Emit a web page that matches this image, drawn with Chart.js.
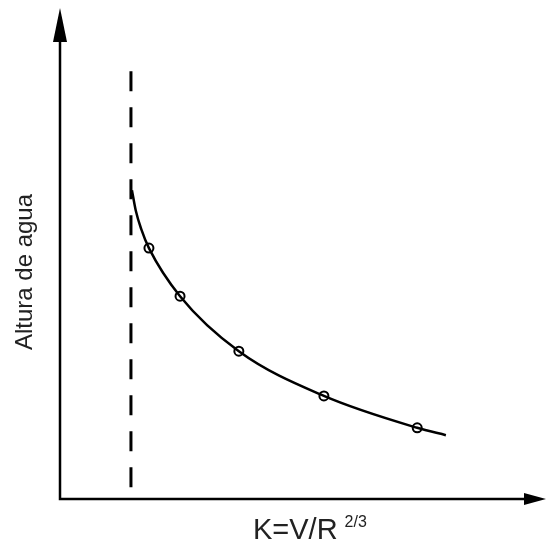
<!DOCTYPE html>
<html>
<head>
<meta charset="utf-8">
<script src="https://cdn.jsdelivr.net/npm/chart.js@4/dist/chart.umd.min.js"></script>
<style>
  html, body { margin: 0; padding: 0; background: #fff; }
  #wrap { width: 546px; height: 540px; }
</style>
</head>
<body>
<div id="wrap"><canvas id="grafico" width="546" height="540"></canvas></div>
<script>
// Curva de altura de agua vs K
const curvaK = [1.48, 1.56, 1.67, 1.83, 2.47, 3.68, 5.43, 7.35, 7.94];
const curvaAltura = [6.29, 5.87, 5.50, 5.11, 4.13, 3.01, 2.10, 1.45, 1.30];

// Puntos medidos (circulos)
const puntosK = [1.83, 2.47, 3.68, 5.43, 7.35];
const puntosAltura = [5.11, 4.13, 3.01, 2.10, 1.45];

// Asintota vertical
const asintotaK = [1.46, 1.46];
const asintotaAltura = [0.24, 8.78];

const tituloY = 'Altura de agua';
const tituloX = 'K=V/R';
const tituloXSup = '2/3';

const aPuntos = (xs, ys) => xs.map((x, i) => ({ x: x, y: ys[i] }));

// Plugin para dibujar los ejes con flechas y los titulos
const ejesFlecha = {
  id: 'ejesFlecha',
  afterDraw(chart) {
    const ctx = chart.ctx;
    const sx = chart.scales.x;
    const sy = chart.scales.y;
    const x0 = sx.getPixelForValue(0);
    const y0 = sy.getPixelForValue(0);
    const xFin = sx.getPixelForValue(sx.max);
    const yFin = sy.getPixelForValue(sy.max);

    ctx.save();
    ctx.strokeStyle = '#000';
    ctx.fillStyle = '#000';
    ctx.lineWidth = 2.5;
    ctx.beginPath();
    ctx.moveTo(x0, yFin + 20);
    ctx.lineTo(x0, y0);
    ctx.lineTo(xFin - 15, y0);
    ctx.stroke();

    // flecha eje y
    ctx.beginPath();
    ctx.moveTo(x0, yFin);
    ctx.lineTo(x0 - 7, yFin + 34);
    ctx.lineTo(x0 + 7, yFin + 34);
    ctx.closePath();
    ctx.fill();

    // flecha eje x
    ctx.beginPath();
    ctx.moveTo(xFin, y0);
    ctx.lineTo(xFin - 22, y0 - 6);
    ctx.lineTo(xFin - 22, y0 + 6);
    ctx.closePath();
    ctx.fill();

    // titulo eje y
    ctx.fillStyle = '#222';
    ctx.font = '24px "Liberation Sans", Arial, sans-serif';
    ctx.textAlign = 'center';
    ctx.textBaseline = 'middle';
    ctx.translate(25, 272);
    ctx.rotate(-Math.PI / 2);
    ctx.fillText(tituloY, 0, 0);
    ctx.restore();

    // titulo eje x con superindice
    ctx.save();
    ctx.fillStyle = '#222';
    ctx.textAlign = 'left';
    ctx.textBaseline = 'alphabetic';
    ctx.font = '29px "Liberation Sans", Arial, sans-serif';
    ctx.fillText(tituloX, 253, 539);
    const w = ctx.measureText(tituloX).width;
    ctx.font = '16px "Liberation Sans", Arial, sans-serif';
    ctx.fillText(tituloXSup, 253 + w + 7, 527);
    ctx.restore();
  }
};

new Chart(document.getElementById('grafico'), {
  type: 'scatter',
  data: {
    datasets: [
      {
        label: 'asintota',
        data: aPuntos(asintotaK, asintotaAltura),
        showLine: true,
        borderColor: '#000',
        borderWidth: 3,
        borderDash: [20, 16],
        pointRadius: 0
      },
      {
        label: 'curva',
        data: aPuntos(curvaK, curvaAltura),
        showLine: true,
        borderColor: '#000',
        borderWidth: 2.5,
        cubicInterpolationMode: 'monotone',
        pointRadius: 0
      },
      {
        label: 'puntos',
        data: aPuntos(puntosK, puntosAltura),
        showLine: false,
        pointRadius: 4.5,
        pointBorderWidth: 2,
        pointBorderColor: '#000',
        pointBackgroundColor: '#fff'
      }
    ]
  },
  options: {
    responsive: false,
    animation: false,
    layout: { autoPadding: false, padding: { left: 60, top: 8, right: 0, bottom: 41 } },
    plugins: {
      legend: { display: false },
      tooltip: { enabled: false }
    },
    scales: {
      x: { type: 'linear', min: 0, max: 10, display: false },
      y: { type: 'linear', min: 0, max: 10, display: false }
    }
  },
  plugins: [ejesFlecha]
});
</script>
</body>
</html>
